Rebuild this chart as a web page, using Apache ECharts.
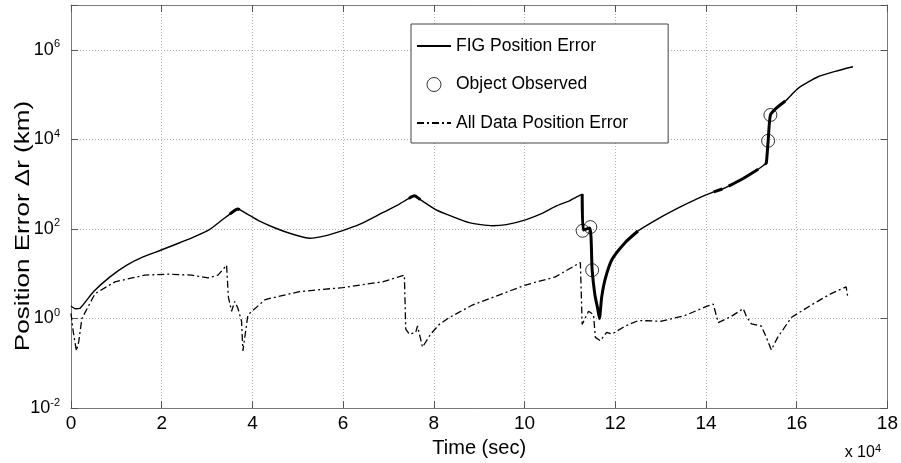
<!DOCTYPE html>
<html><head><meta charset="utf-8">
<script src="https://cdn.jsdelivr.net/npm/echarts@6/dist/echarts.min.js"></script>
<style>html,body{margin:0;padding:0;background:#fff}#c{width:901px;height:463px}</style>
</head><body><div id="c"></div>
<script>
// Time in units of 10^4 sec, error in km
const figTime  = [0, 0.1, 0.2, 0.5, 0.86, 1.23, 1.6, 1.96, 2.3, 2.69, 3.06, 3.3, 3.5, 3.68, 3.72, 3.85, 4.0, 4.16, 4.5, 4.89, 5.26, 5.6, 5.99, 6.36, 6.87, 7.2, 7.45, 7.57, 7.7, 8.04, 8.4, 8.78, 9.29, 9.6, 10.02, 10.4, 10.68, 11.0, 11.27, 11.29, 11.44, 11.49, 11.55, 11.61, 11.65, 11.7, 11.78, 11.93, 12.22, 12.5, 12.95, 13.39, 13.8, 14.17, 14.36, 14.5, 14.8, 15.15, 15.3, 15.33, 15.37, 15.42, 15.55, 15.75, 16.03, 16.47, 16.85, 17.24];
const figError = [1.9, 1.65, 1.7, 4.0, 8.5, 15.5, 24, 33, 45, 65, 98, 150, 215, 280, 270, 225, 185, 150, 105, 76, 62, 70, 92, 126, 230, 340, 480, 550, 450, 270, 190, 138, 118, 125, 160, 225, 320, 430, 600, 95, 105, 12, 3.4, 1.7, 1.0, 3.0, 7.8, 21, 50, 90, 170, 295, 470, 670, 780, 900, 1300, 2150, 2800, 2950, 9300, 35000, 50000, 72000, 138000, 250000, 330000, 417000];

const obsTime  = [11.28, 11.45, 11.49, 15.37, 15.42];
const obsError = [91, 110, 12, 9300, 35000];

const allTime  = [0, 0.05, 0.12, 0.17, 0.24, 0.53, 0.97, 1.63, 2.15, 2.66, 3.02, 3.24, 3.43, 3.47, 3.54, 3.61, 3.68, 3.76, 3.79, 3.9, 4.27, 4.38, 5.04, 5.99, 6.87, 7.35, 7.38, 7.46, 7.6, 7.64, 7.75, 7.93, 8.12, 8.34, 8.85, 10.02, 10.68, 11.23, 11.27, 11.41, 11.52, 11.56, 11.67, 11.81, 11.93, 12.22, 12.51, 13.02, 13.54, 14.01, 14.16, 14.27, 14.56, 14.82, 14.89, 15.0, 15.22, 15.33, 15.44, 15.58, 15.88, 16.32, 16.76, 17.09, 17.13];
const allError = [1.3, 0.5, 0.19, 0.3, 1.0, 3.6, 6.6, 9.3, 9.8, 9.3, 8.1, 9.3, 15.5, 3.0, 1.45, 2.4, 1.7, 0.87, 0.19, 1.2, 2.6, 2.8, 4.0, 4.9, 6.6, 9.3, 0.58, 0.45, 0.49, 0.68, 0.23, 0.45, 0.74, 1.05, 2.0, 5.6, 8.5, 17.8, 0.74, 1.45, 1.23, 0.38, 0.32, 0.49, 0.45, 0.68, 0.9, 0.87, 1.17, 1.86, 2.1, 0.81, 1.12, 1.66, 1.12, 0.76, 0.68, 0.38, 0.2, 0.38, 1.05, 2.0, 3.6, 5.1, 2.8];

// stretches of the FIG curve drawn with a heavier line
const thickRanges = [[3.5, 3.72], [7.45, 7.7], [11.27, 12.5], [14.17, 14.36], [14.5, 15.15], [15.3, 15.75]];

const xTickLabels = ['0', '2', '4', '6', '8', '10', '12', '14', '16', '18'];
const yTickExponents = [-2, 0, 2, 4, 6];

const FONT = "'Liberation Sans', Arial, Helvetica, sans-serif";
const zip = (a, b) => a.map((v, i) => [v, b[i]]);
const figData = zip(figTime, figError);

const thickSeries = thickRanges.map((r, i) => ({
  name: 'FIG thick ' + i, type: 'line', showSymbol: false, silent: true, z: 3,
  smooth: 0.2,
  data: figData.filter(p => p[0] >= r[0] - 1e-9 && p[0] <= r[1] + 1e-9),
  lineStyle: { color: '#000', width: 3 }
}));

const chart = echarts.init(document.getElementById('c'), null, { renderer: 'canvas' });
const axisCol = '#7a7a7a';
const gridLine = { show: true, lineStyle: { color: '#b0b0b0', type: [1, 2], width: 1 } };
const hiddenSymbol = { color: 'rgba(0,0,0,0)', borderColor: 'rgba(0,0,0,0)', borderWidth: 0, opacity: 0 };

chart.setOption({
  animation: false,
  backgroundColor: '#fff',
  textStyle: { fontFamily: FONT },
  grid: { left: 71, right: 11, top: 5, bottom: 48, show: false },
  legend: {
    orient: 'vertical', left: 411, top: 24,
    padding: [13, 40, 11, 5], itemGap: 20.5, itemWidth: 34, itemHeight: 14,
    backgroundColor: '#fff', borderColor: '#444', borderWidth: 1, borderRadius: 0,
    textStyle: { fontSize: 17.5, color: '#000', fontFamily: FONT },
    data: [
      { name: 'FIG Position Error', itemStyle: hiddenSymbol },
      { name: 'Object Observed', icon: 'circle', itemStyle: { color: 'rgba(0,0,0,0)', borderColor: '#000', borderWidth: 1 } },
      { name: 'All Data Position Error', itemStyle: hiddenSymbol }
    ]
  },
  xAxis: [{
    type: 'value', min: 0, max: 18, interval: 2, position: 'bottom',
    name: 'Time (sec)', nameLocation: 'middle', nameGap: 22,
    nameTextStyle: { fontSize: 20, color: '#000', fontFamily: FONT },
    axisLine: { show: true, lineStyle: { color: axisCol, width: 1 } },
    axisTick: { show: true, inside: true, length: 7, lineStyle: { color: '#555' } },
    axisLabel: { fontSize: 19, color: '#000', margin: 6, fontFamily: FONT,
      formatter: v => xTickLabels[Math.round(v / 2)] },
    splitLine: gridLine
  }, {
    type: 'value', min: 0, max: 18, interval: 2, position: 'top',
    axisLine: { show: true, onZero: false, lineStyle: { color: axisCol, width: 1 } },
    axisTick: { show: true, inside: true, length: 7, lineStyle: { color: '#555' } },
    axisLabel: { show: false }, splitLine: { show: false }
  }],
  yAxis: [{
    type: 'log', logBase: 100, min: 0.01, max: 1e7, interval: 1, position: 'left',
    axisLine: { show: true, onZero: false, lineStyle: { color: axisCol, width: 1 } },
    axisTick: { show: true, inside: true, length: 7, lineStyle: { color: '#555' } },
    axisLabel: {
      margin: 11, color: '#000', fontFamily: FONT,
      formatter: v => {
        const e = Math.round(Math.log10(v));
        if (yTickExponents.indexOf(e) < 0) return '';
        return '{b|10}{s|' + e + '}';
      },
      rich: {
        b: { fontSize: 18, lineHeight: 22, color: '#000', fontFamily: FONT },
        s: { fontSize: 11, verticalAlign: 'top', lineHeight: 22, color: '#000', fontFamily: FONT }
      }
    },
    splitLine: gridLine
  }, {
    type: 'log', logBase: 100, min: 0.01, max: 1e7, interval: 1, position: 'right',
    axisLine: { show: true, onZero: false, lineStyle: { color: axisCol, width: 1 } },
    axisTick: { show: true, inside: true, length: 7, lineStyle: { color: '#555' } },
    axisLabel: { show: false }, splitLine: { show: false }
  }],
  graphic: [{
    type: 'text', x: 23, y: 226, rotation: Math.PI / 2, scaleX: 1.24,
    style: {
      text: 'Position Error \u0394r (km)', fill: '#000', fontSize: 21, fontFamily: FONT,
      align: 'center', verticalAlign: 'middle'
    }
  }, {
    type: 'text', right: 20, bottom: 2,
    style: {
      text: '{a|x 10}{e|4}', fill: '#000',
      rich: {
        a: { fontSize: 16, lineHeight: 20, fontFamily: FONT, fill: '#000' },
        e: { fontSize: 11, verticalAlign: 'top', lineHeight: 20, fontFamily: FONT, fill: '#000' }
      }
    }
  }],
  series: [
    {
      name: 'FIG Position Error', type: 'line', showSymbol: false, symbol: 'none', z: 3,
      smooth: 0.2,
      data: figData, lineStyle: { color: '#000', width: 1.4 }, itemStyle: { color: '#000' }
    },
    ...thickSeries,
    {
      name: 'Object Observed', type: 'scatter', symbol: 'circle', symbolSize: 13, z: 5,
      data: zip(obsTime, obsError),
      itemStyle: { color: 'rgba(0,0,0,0)', borderColor: '#000', borderWidth: 1 }
    },
    {
      name: 'All Data Position Error', type: 'line', showSymbol: false, symbol: 'none', z: 2,
      data: zip(allTime, allError),
      lineStyle: { color: '#000', width: 1.3, type: [7, 3, 2, 3] }, itemStyle: { color: '#000' }
    }
  ]
});
</script></body></html>
